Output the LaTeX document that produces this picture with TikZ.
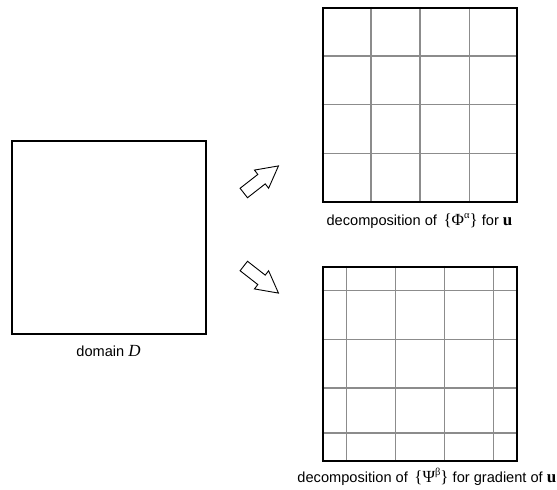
\documentclass[tikz,border=0pt]{standalone}
\usepackage{fontspec}
\setmainfont{Liberation Sans}
\newfontfamily\serifgr{Liberation Serif}
\usetikzlibrary{calc,backgrounds}
\definecolor{gridgray}{gray}{0.55}
% serif symbols set a little larger than the sans caption text
\newcommand{\sym}[1]{{\serifgr\fontsize{17}{18}\selectfont #1}}
% small raised index in the serif font
\newcommand{\upidx}[1]{\raisebox{0.42em}{\fontsize{10.5}{11}\selectfont #1}}

\begin{document}
\begin{tikzpicture}[x=1pt,y=-1pt,
  frame/.style={draw=black, line width=2pt, inner sep=0pt},
  gridline/.style={draw=gridgray, line width=1.3pt},
  blockarrow/.style={draw=black, line width=0.9pt, fill=white, line join=miter},
  caption/.style={font=\fontsize{14.6}{17}\selectfont, inner sep=0pt}]
\useasboundingbox (0,0) rectangle (557,490);

% the domain and its two decompositions
\node[frame, minimum width=193.7pt, minimum height=193.3pt] (dom) at (109.2,237.7) {};
\node[frame, minimum width=194.6pt, minimum height=193.7pt] (phi) at (420,104.8) {};
\node[frame, minimum width=194.6pt, minimum height=194.3pt] (psi) at (420,363.8) {};

\begin{scope}[on background layer]
  % regular 4x4 grid
  \foreach \f in {0.25,0.5,0.75} {
    \draw[gridline] ($(phi.north west)!\f!(phi.north east)$) -- ($(phi.south west)!\f!(phi.south east)$);
    \draw[gridline] ($(phi.north west)!\f!(phi.south west)$) -- ($(phi.north east)!\f!(phi.south east)$);
  }
  % staggered grid
  \foreach \f in {0.125,0.375,0.625,0.875}
    \draw[gridline] ($(psi.north west)!\f!(psi.north east)$) -- ($(psi.south west)!\f!(psi.south east)$);
  \foreach \f in {0.128,0.376,0.624,0.853}
    \draw[gridline] ($(psi.north west)!\f!(psi.south west)$) -- ($(psi.north east)!\f!(psi.south east)$);
\end{scope}

% hollow block arrows, drawn tail first along the local x axis
\foreach \cx/\cy/\ang in {243.8/193/38, 243.8/266/-38}
  \draw[blockarrow, shift={(\cx,\cy)}, rotate=\ang]
    (0,-6) -- (22.5,-6) -- (22.5,-11.5) -- (44,0) -- (22.5,11.5) -- (22.5,6) -- (0,6) -- cycle;

% captions
\node[caption, anchor=base] (domlab) at (108.5,356) {domain \sym{\itshape D}};
\node[caption, anchor=base] (philab) at (419.5,225.7)
  {decomposition of\hspace{0.45em}\sym{\{Φ\upidx{α}\}} for \sym{\bfseries u}};
\node[caption, anchor=base east] (psilab) at (556.5,482.7)
  {decomposition of\hspace{0.45em}\sym{\{Ψ\upidx{β}\}} for gradient of \sym{\bfseries u}};
\end{tikzpicture}
\end{document}
